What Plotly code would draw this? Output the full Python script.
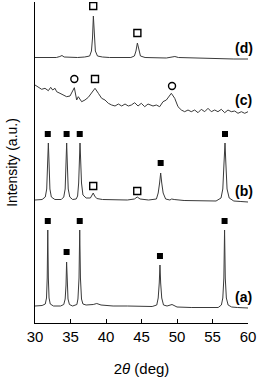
import plotly.graph_objects as go

# ---- data (2θ in deg, intensity in a.u., traces stacked) ----
a_theta = [30.0, 31.0, 31.45, 31.62, 31.72, 31.8, 31.88, 31.98, 32.15, 32.6, 33.6, 34.05, 34.25, 34.37, 34.45, 34.53,
           34.65, 34.85, 35.3, 35.9, 36.05, 36.2, 36.3, 36.4, 36.55, 36.75, 37.2, 38.2, 38.7, 39.3, 41.0, 43.0, 45.0,
           46.5, 47.15, 47.35, 47.5, 47.6, 47.7, 47.85, 48.1, 48.6, 49.3, 50.0, 52.0, 54.0, 55.8, 56.25, 56.45,
           56.6, 56.7, 56.8, 56.95, 57.2, 57.7, 58.5, 60.0]
a_int = [17, 17.5, 19, 25, 45, 93, 45, 25, 19, 17, 17, 18.5, 24, 38, 61, 38, 24, 18.5, 17, 18.5, 24, 45, 93, 45, 24,
         19, 18, 18.5, 19.5, 18, 17, 17, 16.5, 16.5, 18, 25, 40, 58, 40, 25, 18, 17, 18.5, 16, 15.5, 15.5, 15.5, 18, 25,
         45, 93, 45, 25, 18, 16, 15.5, 15]

b_theta = [30.0, 31.0, 31.45, 31.65, 31.78, 31.88, 31.98, 32.1, 32.3, 32.8, 33.7, 34.05, 34.25, 34.38, 34.46, 34.55,
           34.68, 34.9, 35.3, 35.8, 36.0, 36.15, 36.26, 36.34, 36.42, 36.55, 36.75, 37.2, 37.8, 38.0, 38.2, 38.4,
           38.7, 39.5, 41.0, 43.0, 44.0, 44.4, 44.8, 46.0, 47.1, 47.35, 47.55, 47.7, 47.85, 48.05, 48.4, 49.0,
           49.25, 49.6, 51.0, 53.0, 55.5, 56.2, 56.45, 56.62, 56.76, 56.88, 57.05, 57.35, 58.0, 59.0, 60.0]
b_int = [123, 123.5, 126, 134, 160, 180, 160, 134, 126, 123.5, 123.5, 126, 134, 160, 180, 160, 134, 126, 123.5,
         124, 127, 140, 165, 180, 165, 140, 128, 125, 125, 127, 130, 127, 124.5, 123.5, 123, 123, 124, 126, 124,
         123, 124, 130, 140, 150, 140, 130, 124, 123, 124, 123.5, 122.5, 122.5, 122, 125, 134, 160, 180, 160, 134,
         125, 122, 121.5, 121]

c_theta = [30.0, 30.47, 30.94, 31.41, 31.88, 32.21, 32.49, 32.82, 33.05, 33.52, 33.99, 34.46, 34.93, 35.16, 35.54,
           35.87, 36.1, 36.57, 37.04, 37.51, 37.98, 38.45, 38.92, 39.39, 39.86, 40.33, 40.8, 41.27, 41.74, 42.21,
           42.68, 43.14, 43.57, 44.04, 44.51, 44.97, 45.45, 45.92, 46.62, 47.09, 47.56, 48.03, 48.5, 48.97, 49.2,
           49.68, 50.14, 50.61, 51.08, 51.55, 52.01, 52.49, 52.96, 53.42, 53.9, 54.37, 54.83, 55.31, 55.77, 56.24,
           56.72, 57.18, 57.65, 58.13, 58.59, 59.06, 59.54, 60.0]
c_int = [238, 235.7, 233.7, 234.7, 232.3, 235.7, 233, 234.7, 231.3, 229.7, 228, 226.3, 227, 229.7, 235.3,
         223, 226.3, 221.3, 223, 225.7, 229.7, 234.7, 229.7, 224.7, 223, 219.7, 218, 217, 219, 217,
         219, 217, 218, 220.3, 217, 219.7, 216.3, 219, 217, 218, 216.3, 221.3, 223, 228, 229.7,
         224.7, 216.3, 213, 211.3, 213, 211.3, 213, 210.3, 213.7, 211.3, 214.7, 211.3, 213, 211.3, 213.7,
         210.3, 213, 211.3, 212, 209.7, 211.3, 209.7, 211.3]

d_theta = [30.0, 31.0, 32.0, 33.0, 33.5, 33.8, 34.1, 35.0, 36.0, 37.0, 37.7, 37.95, 38.1, 38.22, 38.34, 38.5,
           38.8, 39.5, 40.5, 41.5, 42.5, 43.5, 44.0, 44.22, 44.42, 44.62, 44.85, 45.5, 47.0, 48.5, 49.3, 49.7,
           50.2, 52.0, 54.0, 56.0, 58.0, 60.0]
d_int = [265.5, 265.5, 265, 265.5, 266.5, 267.5, 266, 265.5, 265.5, 266, 267, 272, 285, 307, 285, 272,
         267, 266, 265.5, 265.5, 265.5, 265.5, 267, 272, 280, 272, 267, 265.5, 265, 265, 266, 266.5,
         265.5, 265, 264.5, 264.5, 264, 264]

# phase markers: filled squares, open squares, open circles (2θ, height)
fsq_theta = [31.8, 34.45, 36.3, 47.6, 56.7, 31.8, 34.45, 36.3, 47.7, 56.76]
fsq_int = [102, 71, 102, 67, 102, 189, 189, 189, 160, 189]
osq_theta = [38.2, 44.4, 38.45, 38.2, 44.42]
osq_int = [137, 132, 244, 317, 290]
oci_theta = [35.54, 49.3]
oci_int = [244, 237]

labels = ["(a)", "(b)", "(c)", "(d)"]
label_int = [26.5, 132, 223, 275.5]

# ---- figure ----
FONT = "Arial, Liberation Sans, sans-serif"
line_style = dict(color="#3a3a3a", width=1)
fig = go.Figure()
for th, it in [(a_theta, a_int), (b_theta, b_int), (c_theta, c_int), (d_theta, d_int)]:
    fig.add_trace(go.Scatter(x=th, y=it, mode="lines", line=line_style, showlegend=False, hoverinfo="skip"))

fig.add_trace(go.Scatter(x=fsq_theta, y=fsq_int, mode="markers", showlegend=False,
                         marker=dict(symbol="square", size=6, color="black")))
fig.add_trace(go.Scatter(x=osq_theta, y=osq_int, mode="markers", showlegend=False,
                         marker=dict(symbol="square-open", size=7, color="black", line=dict(width=1.4))))
fig.add_trace(go.Scatter(x=oci_theta, y=oci_int, mode="markers", showlegend=False,
                         marker=dict(symbol="circle-open", size=7, color="black", line=dict(width=1.4))))

for lab, yi in zip(labels, label_int):
    fig.add_annotation(x=59.4, y=yi, text="<b>%s</b>" % lab, showarrow=False, xanchor="center", yanchor="middle",
                       font=dict(family=FONT, size=14, color="black"))

fig.update_layout(
    width=258, height=379,
    margin=dict(l=35, r=10, t=2, b=56),
    paper_bgcolor="white", plot_bgcolor="white",
    font=dict(family=FONT, size=15, color="black"),
    xaxis=dict(range=[30, 60], tickvals=[30, 35, 40, 45, 50, 55, 60], ticks="inside", ticklen=4, tickwidth=1.2,
               tickcolor="black", showline=True, linecolor="black", linewidth=1.3, showgrid=False, zeroline=False,
               title=dict(text="2<i>θ</i> (deg)", font=dict(size=15), standoff=19),
               tickfont=dict(size=15)),
    yaxis=dict(range=[0, 321], showticklabels=False, ticks="", showline=True, linecolor="black", linewidth=1.3,
               showgrid=False, zeroline=False,
               title=dict(text="Intensity (a.u.)", font=dict(size=14), standoff=12)),
)
fig.write_html("out.html", config={"displayModeBar": False},
               post_script="document.body.style.margin='0';document.body.style.overflow='hidden';")
